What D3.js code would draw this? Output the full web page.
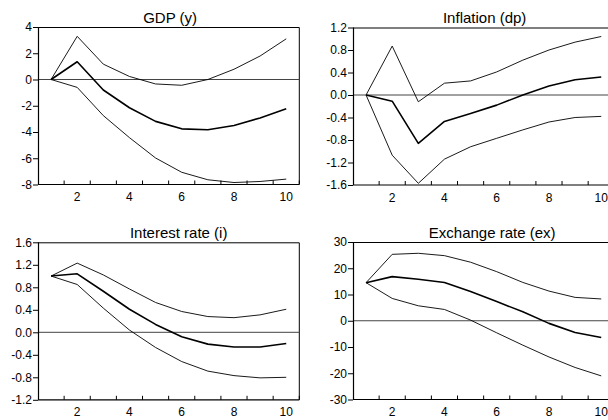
<!DOCTYPE html>
<html>
<head>
<meta charset="utf-8">
<script src="https://cdn.jsdelivr.net/npm/d3@7"></script>
<style>
	body { margin: 0; background: #fff; }
	svg { display: block; font-family: "Liberation Sans", Arial, sans-serif; }
</style>
</head>
<body>
<svg id="chart" width="608" height="420"></svg>
<script>
'use strict'

// periods after the shock
var periods = [1, 2, 3, 4, 5, 6, 7, 8, 9, 10];
var xLabels = [2, 4, 6, 8, 10];

var titles = ['GDP (y)', 'Inflation (dp)', 'Interest rate (i)', 'Exchange rate (ex)'];

// GDP (y)
var gdpUpper = [0, 3.29, 1.17, 0.23, -0.34, -0.44, 0.0, 0.78, 1.79, 3.1];
var gdpMean  = [0, 1.35, -0.8, -2.15, -3.19, -3.76, -3.83, -3.5, -2.93, -2.23];
var gdpLower = [0, -0.6, -2.75, -4.43, -5.98, -7.07, -7.64, -7.85, -7.77, -7.59];

// Inflation (dp)
var dpUpper = [0, 0.87, -0.12, 0.21, 0.25, 0.41, 0.62, 0.80, 0.94, 1.04];
var dpMean  = [0, -0.11, -0.86, -0.47, -0.33, -0.18, 0.0, 0.16, 0.27, 0.32];
var dpLower = [0, -1.07, -1.57, -1.14, -0.92, -0.77, -0.62, -0.48, -0.40, -0.38];

// Interest rate (i)
var iUpper = [1.0, 1.23, 1.02, 0.77, 0.53, 0.37, 0.28, 0.26, 0.31, 0.41];
var iMean  = [1.0, 1.04, 0.73, 0.41, 0.14, -0.08, -0.21, -0.26, -0.26, -0.20];
var iLower = [1.0, 0.85, 0.43, 0.04, -0.27, -0.52, -0.69, -0.77, -0.81, -0.80];

// Exchange rate (ex)
var exUpper = [14.5, 25.3, 25.7, 24.8, 22.3, 18.7, 14.6, 11.3, 8.9, 8.3];
var exMean  = [14.5, 16.8, 15.8, 14.6, 11.1, 7.3, 3.4, -1.0, -4.5, -6.4];
var exLower = [14.5, 8.5, 5.7, 4.3, 0.25, -4.6, -9.3, -13.8, -17.8, -21.0];

// y axis ticks
var gdpTicks = [-8, -6, -4, -2, 0, 2, 4];
var dpTicks = [-1.6, -1.2, -0.8, -0.4, 0.0, 0.4, 0.8, 1.2];
var iTicks = [-1.2, -0.8, -0.4, 0.0, 0.4, 0.8, 1.2, 1.6];
var exTicks = [-30, -20, -10, 0, 10, 20, 30];

var panels = [
	{ title: titles[0], series: [gdpUpper, gdpMean, gdpLower], ticks: gdpTicks, fmt: d3.format('d'), x: 38, y: 27, tdx: 1.5 },
	{ title: titles[1], series: [dpUpper, dpMean, dpLower], ticks: dpTicks, fmt: d3.format('.1f'), x: 353, y: 27.5, tdx: 1 },
	{ title: titles[2], series: [iUpper, iMean, iLower], ticks: iTicks, fmt: d3.format('.1f'), x: 38, y: 242.3, tdx: 10 },
	{ title: titles[3], series: [exUpper, exMean, exLower], ticks: exTicks, fmt: d3.format('d'), x: 353, y: 242, tdx: 8.5 }
];

var W = 261.3, H = 157.5;
var svg = d3.select('#chart');

function drawPanel(p){
	var g = svg.append('g').attr('transform', `translate(${p.x},${p.y})`);

	var x = d3.scaleBand().domain(periods).range([0, W]);
	var y = d3.scaleLinear()
		.domain([p.ticks[0], p.ticks[p.ticks.length - 1]])
		.range([H, 0]);

	// frame top / right
	g.append('path')
		.attr('d', `M0,0.5H${W}V${H}`)
		.attr('fill', 'none')
		.attr('stroke', '#000')
		.attr('stroke-width', 1);

	// zero line
	g.append('line')
		.attr('x1', 0).attr('x2', W)
		.attr('y1', y(0)).attr('y2', y(0))
		.attr('stroke', '#444')
		.attr('stroke-width', 1);

	// y axis
	var ya = g.append('g').call(d3.axisLeft(y).tickValues(p.ticks).tickFormat(function(d){
		return p.fmt(d).replace('\u2212', '-');
	}).tickSize(5).tickPadding(1));
	ya.select('.domain').attr('stroke', '#000').attr('stroke-width', 1.2).attr('d', `M0.5,0V${H}`);
	ya.selectAll('text').attr('font-size', 12).attr('fill', '#000').attr('font-family', '"Liberation Sans", Arial, sans-serif');

	// x axis: ticks at period boundaries, pointing inward
	var xa = g.append('g').attr('transform', `translate(0,${H})`);
	xa.append('line').attr('x1', 0).attr('x2', W).attr('stroke', '#000').attr('stroke-width', 1.2);
	xa.selectAll('.tk').data(periods.slice(1)).enter().append('line')
		.attr('x1', function(d){ return x(d); })
		.attr('x2', function(d){ return x(d); })
		.attr('y1', 0).attr('y2', -4)
		.attr('stroke', '#000');
	xa.append('line').attr('x1', W).attr('x2', W).attr('y1', 0).attr('y2', -4).attr('stroke', '#000');
	xa.selectAll('.lb').data(xLabels).enter().append('text')
		.attr('x', function(d){ return x(d) + x.bandwidth() / 2; })
		.attr('y', 16.5)
		.attr('text-anchor', 'middle')
		.attr('font-size', 12)
		.text(function(d){ return d; });

	// lines
	var line = d3.line()
		.x(function(d, i){ return x(periods[i]) + x.bandwidth() / 2; })
		.y(function(d){ return y(d); });

	p.series.forEach(function(s, k){
		g.append('path')
			.attr('d', line(s))
			.attr('fill', 'none')
			.attr('stroke', '#000')
			.attr('stroke-width', k === 1 ? 1.6 : 0.9)
			.attr('stroke-linejoin', 'round');
	});

	// title
	g.append('text')
		.attr('x', W / 2 + p.tdx)
		.attr('y', -4.5)
		.attr('text-anchor', 'middle')
		.attr('font-size', 15)
		.text(p.title);
}

panels.forEach(drawPanel);
</script>
</body>
</html>
